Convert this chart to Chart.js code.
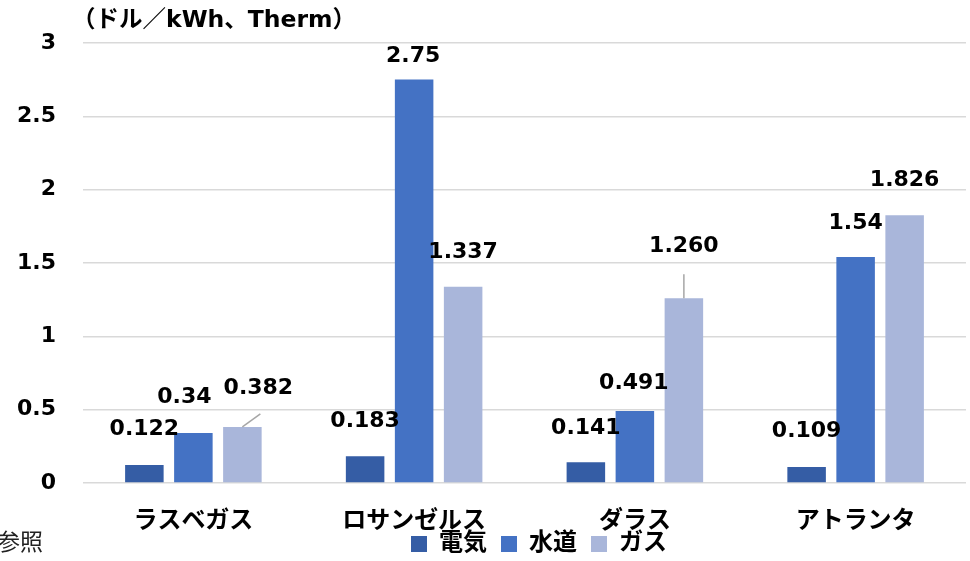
<!DOCTYPE html>
<html>
<head>
<meta charset="utf-8">
<script src="https://cdn.jsdelivr.net/npm/chart.js@4.4.1/dist/chart.umd.min.js"></script>
<style>
  html, body { margin: 0; padding: 0; background: #fff; }
  #wrap { position: relative; width: 970px; height: 561px; overflow: hidden; }
  #note { position: absolute; left: -3px; top: 523px; font: 400 23px 'Noto Sans CJK JP', sans-serif; color: #222; white-space: nowrap; }
</style>
</head>
<body>
<div id="wrap">
  <canvas id="c" width="970" height="561"></canvas>
  <span id="note">参照</span>
</div>
<script>
// Utility prices by city (USD per kWh / Therm)
const categories = ['ラスベガス', 'ロサンゼルス', 'ダラス', 'アトランタ'];
const seriesNames = ['電気', '水道', 'ガス'];
const electricityLabels = ['0.122', '0.183', '0.141', '0.109'];
const waterLabels = ['0.34', '2.75', '0.491', '1.54'];
const gasLabels = ['0.382', '1.337', '1.260', '1.826'];
const yTicks = [0, 0.5, 1, 1.5, 2, 2.5, 3];
const unitTitle = '（ドル／kWh、Therm）';

const seriesLabels = [electricityLabels, waterLabels, gasLabels];
const seriesColors = ['#355DA5', '#4472C4', '#A9B6DA'];

// Label placement tweaks per series/category: [dx, dy] in px
const labelNudge = [
  [[0, -1], [0, 0], [0, 1], [0, -1]],
  [[-9, -1], [-1, 12], [-1, 7], [0, 1]],
  [[16, -4], [0, 0], [0, -17], [0, 0]]
];
// Leader lines from bar top: [dx, dy] of the far end, or null
const leaderLines = [
  [null, null, null, null],
  [null, null, null, null],
  [[18, -13], null, [0, -24], null]
];

const FONT = "'DejaVu Sans', 'Noto Sans CJK JP', sans-serif";

const valueLabels = {
  id: 'valueLabels',
  afterDatasetsDraw(chart) {
    const ctx = chart.ctx;
    ctx.save();
    chart.data.datasets.forEach((ds, i) => {
      const meta = chart.getDatasetMeta(i);
      meta.data.forEach((bar, j) => {
        const lead = leaderLines[i][j];
        if (lead) {
          ctx.strokeStyle = '#A6A6A6';
          ctx.lineWidth = 1.5;
          ctx.beginPath();
          ctx.moveTo(bar.x, bar.y);
          ctx.lineTo(bar.x + lead[0], bar.y + lead[1]);
          ctx.stroke();
        }
        const [dx, dy] = labelNudge[i][j];
        ctx.fillStyle = '#000';
        ctx.font = 'bold 22px ' + FONT;
        ctx.textAlign = 'center';
        ctx.textBaseline = 'middle';
        ctx.fillText(seriesLabels[i][j], bar.x + dx, bar.y - 35 + dy);
      });
    });
    ctx.restore();
  }
};

const boxShift = {
  id: 'boxShift',
  afterLayout(chart) {
    if (chart.titleBlock) { chart.titleBlock.left = 72; }
    if (chart.legend) { chart.legend.left = 397; chart.legend.top = 518; chart.legend.bottom = 561; }
  }
};

new Chart(document.getElementById('c'), {
  type: 'bar',
  data: {
    labels: categories,
    datasets: seriesNames.map((name, i) => ({
      label: name,
      data: seriesLabels[i].map(Number),
      backgroundColor: seriesColors[i],
      borderWidth: 0,
      categoryPercentage: 0.666,
      barPercentage: 0.786
    }))
  },
  options: {
    responsive: false,
    devicePixelRatio: 1,
    animation: false,
    layout: { padding: { left: 0, right: 4, top: 0, bottom: 0 } },
    plugins: {
      title: {
        display: true,
        text: unitTitle,
        align: 'start',
        color: '#000',
        font: { family: FONT, size: 23.5, weight: 'bold', lineHeight: 1.12 },
        padding: { top: 8, bottom: 8.6 }
      },
      legend: {
        display: true,
        position: 'bottom',
        align: 'start',
        maxHeight: 22,
        labels: {
          color: '#000',
          boxWidth: 16,
          boxHeight: 16,
          padding: 14,
          font: { family: FONT, size: 24, weight: 'bold' }
        }
      },
      tooltip: { enabled: false }
    },
    scales: {
      x: {
        grid: { display: false, drawTicks: false },
        border: { display: false },
        ticks: {
          color: '#000',
          padding: 24,
          font: { family: FONT, size: 24, weight: 'bold' }
        },
        afterFit(scale) { scale.height = 56; }
      },
      y: {
        min: 0,
        max: 3,
        afterBuildTicks(scale) { scale.ticks = yTicks.map(v => ({ value: v })); },
        grid: { color: '#D9D9D9', lineWidth: 1.5, drawTicks: false },
        border: { display: false },
        ticks: {
          color: '#000',
          padding: 27,
          font: { family: FONT, size: 22, weight: 'bold' },
          callback: (value) => String(value)
        },
        afterFit(scale) { scale.width = 83; }
      }
    }
  },
  plugins: [valueLabels, boxShift]
});
</script>
</body>
</html>
